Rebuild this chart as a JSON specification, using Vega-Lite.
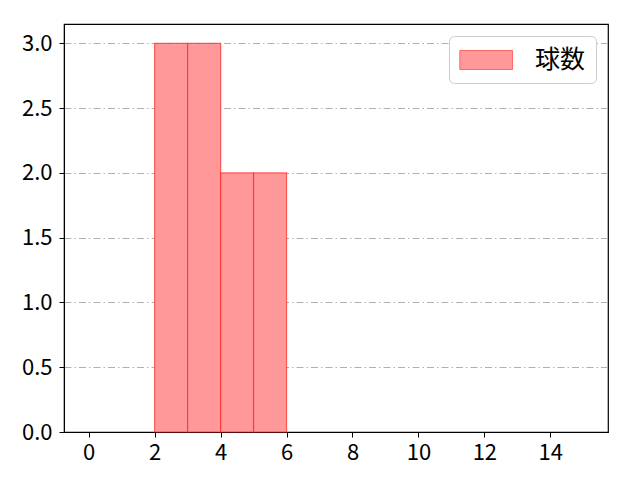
{
  "$schema": "https://vega.github.io/schema/vega-lite/v6.json",
  "width": 544,
  "height": 408,
  "autosize": {"type": "none"},
  "padding": {"left": 64, "top": 24, "right": 32, "bottom": 48},
  "background": "white",
  "config": {
    "view": {"stroke": "black", "strokeWidth": 1.2},
    "font": "Noto Sans CJK JP",
    "axis": {
      "labelFont": "Noto Sans CJK JP",
      "labelFontSize": 22,
      "labelColor": "black",
      "domainColor": "black",
      "tickColor": "black",
      "tickSize": 5,
      "labelPadding": 5
    }
  },
  "data": {
    "values": [
      {"bin_start": 2, "bin_end": 3, "count": 3, "series": "球数"},
      {"bin_start": 3, "bin_end": 4, "count": 3, "series": "球数"},
      {"bin_start": 4, "bin_end": 5, "count": 2, "series": "球数"},
      {"bin_start": 5, "bin_end": 6, "count": 2, "series": "球数"}
    ]
  },
  "mark": {"type": "bar", "orient": "vertical", "stroke": "#ff2222", "strokeOpacity": 0.7, "strokeWidth": 1.2},
  "encoding": {
    "x": {
      "field": "bin_start",
      "type": "quantitative",
      "scale": {"domain": [-0.75, 15.75], "nice": false, "zero": false, "padding": 0},
      "axis": {"values": [0, 2, 4, 6, 8, 10, 12, 14], "title": null, "grid": false, "format": "d"}
    },
    "x2": {"field": "bin_end"},
    "y": {
      "field": "count",
      "type": "quantitative",
      "scale": {"domain": [0, 3.15], "nice": false, "padding": 0},
      "axis": {
        "values": [0, 0.5, 1, 1.5, 2, 2.5, 3],
        "format": ".1f",
        "title": null,
        "labelPadding": 7,
        "grid": true,
        "gridColor": "#b0b0b0",
        "gridDash": [7, 3, 1.5, 3],
        "gridWidth": 1
      }
    },
    "y2": {"datum": 0},
    "color": {
      "field": "series",
      "type": "nominal",
      "scale": {"range": ["#ff9999"]},
      "legend": {
        "title": null,
        "orient": "top-right",
        "offset": 12,
        "labelFontSize": 25,
        "labelFont": "Noto Sans CJK JP",
        "labelColor": "black",
        "symbolType": "M-1,-0.72H3V0.72H-1Z",
        "symbolSize": 695,
        "symbolStrokeColor": "#ff6666",
        "symbolStrokeWidth": 1,
        "symbolOpacity": 1,
        "labelOffset": 48,
        "padding": 10,
        "strokeColor": "#cccccc",
        "fillColor": "white",
        "cornerRadius": 5
      }
    }
  }
}
